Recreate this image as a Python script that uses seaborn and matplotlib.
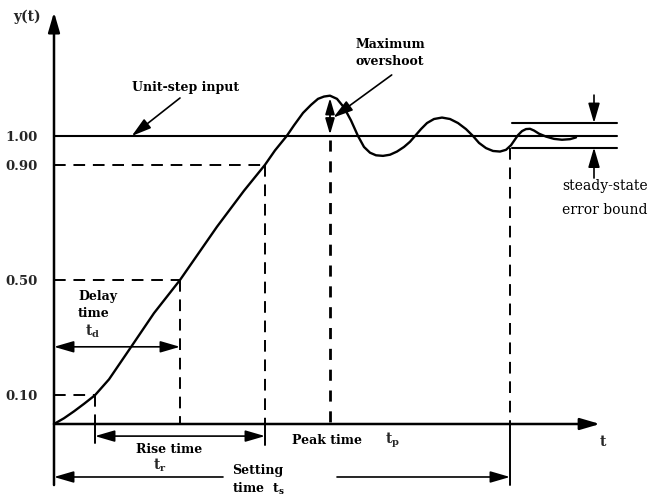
import matplotlib
matplotlib.use("Agg")
import matplotlib.pyplot as plt
import seaborn as sns

# ---------------- data ----------------
t_curve = [0.00, 0.10, 0.20, 0.30, 0.41, 0.55, 0.76, 1.00, 1.26, 1.63, 1.90,
           2.11, 2.21, 2.327, 2.40, 2.49, 2.57, 2.64, 2.70, 2.76, 2.83, 2.90,
           2.97, 3.04, 3.10, 3.16, 3.22, 3.29, 3.36, 3.43, 3.50, 3.56, 3.61,
           3.67, 3.73, 3.80, 3.88, 3.96, 4.04, 4.12, 4.19, 4.25, 4.32, 4.39,
           4.46, 4.52, 4.57, 4.61, 4.64, 4.68, 4.72, 4.76, 4.80, 4.85, 4.92,
           5.00, 5.08, 5.16, 5.22]
y_curve = [0.000, 0.020, 0.044, 0.070, 0.100, 0.155, 0.262, 0.385, 0.500, 0.685, 0.810,
           0.900, 0.950, 1.000, 1.037, 1.080, 1.108, 1.129, 1.137, 1.140, 1.129, 1.099,
           1.054, 1.000, 0.962, 0.942, 0.933, 0.931, 0.935, 0.946, 0.962, 0.980, 1.000,
           1.024, 1.045, 1.059, 1.064, 1.059, 1.045, 1.024, 1.000, 0.976, 0.958, 0.948,
           0.946, 0.952, 0.968, 0.988, 1.003, 1.017, 1.024, 1.025, 1.019, 1.008, 0.998,
           0.990, 0.987, 0.989, 0.995]

y_ticks = [0.10, 0.50, 0.90, 1.00]
y_tick_labels = ["0.10", "0.50", "0.90", "1.00"]

t_10 = 0.41      # time at 10 %
t_d = 1.26       # delay time (50 %)
t_90 = 2.11      # time at 90 %
t_p = 2.76       # peak time
t_s = 4.56       # settling time
y_peak = 1.140
step_level = 1.00
bound_lo, bound_hi = 0.96, 1.045
t_end = 5.63
t_axis_end = 5.46

# ---------------- figure ----------------
sns.set_theme(style="white")
plt.rcParams["font.family"] = ["DejaVu Serif"]
plt.rcParams["mathtext.fontset"] = "dejavuserif"

fig = plt.figure(figsize=(6.6, 5.0), dpi=100)
ax = fig.add_axes([0, 0, 1, 1])
ax.set_xlim(-0.54, 6.06)
ax.set_ylim(-76 / 288, 424 / 288)
for s in ax.spines.values():
    s.set_visible(False)
ax.spines["left"].set_position(("data", 0))
ax.set_xticks([])
ax.set_yticks(y_ticks)
ax.set_yticklabels(y_tick_labels, fontsize=9.5, fontweight="bold")
ax.tick_params(axis="y", length=0, pad=11.5)
ax.set_facecolor("white")
fig.patch.set_facecolor("white")

K = "black"
LW = 1.7

def arrow(x0, y0, x1, y1, style="-|>", lw=1.2, ms=10):
    ax.annotate("", xy=(x1, y1), xytext=(x0, y0),
                arrowprops=dict(arrowstyle=style + ",head_length=1.2,head_width=0.35",
                                lw=lw, color=K, shrinkA=0, shrinkB=0,
                                mutation_scale=ms))

# axes with arrows
arrow(0, -0.212, 0, 1.43, lw=1.8)
arrow(0, 0, t_axis_end, 0, lw=1.8)

# response curve
sns.lineplot(x=t_curve, y=y_curve, ax=ax, color=K, lw=LW, estimator=None)

# unit step and error band
ax.plot([0, t_end], [step_level, step_level], color=K, lw=1.5)
ax.plot([4.58, t_end], [bound_hi, bound_hi], color=K, lw=1.5)
ax.plot([4.58, t_end], [bound_lo, bound_lo], color=K, lw=1.5)

# dashed guides
dash = dict(color=K, lw=1.4, ls=(0, (6, 4)))
ax.plot([0, t_10], [0.10, 0.10], **dash)
ax.plot([t_10, t_10], [0.10, 0], **dash)
ax.plot([0, t_d], [0.50, 0.50], **dash)
ax.plot([t_d, t_d], [0.50, 0], **dash)
ax.plot([0, t_90], [0.90, 0.90], **dash)
ax.plot([t_90, t_90], [0.90, 0], **dash)
ax.plot([t_p, t_p], [0.985, 0], color=K, lw=2.0, ls=(0, (4, 3.5)))
ax.plot([t_s, t_s], [0.96, 0], **dash)

# solid ticks below the axis
ax.plot([t_10, t_10], [0, -0.066], color=K, lw=1.4)
ax.plot([t_90, t_90], [0, -0.073], color=K, lw=1.4)
ax.plot([t_s, t_s], [0, -0.212], color=K, lw=1.4)

# interval arrows
arrow(0, 0.268, t_d, 0.268, style="<|-|>")
arrow(t_10, -0.042, t_90, -0.042, style="<|-|>")
arrow(1.69, -0.184, 0, -0.184)
arrow(2.83, -0.184, t_s, -0.184)
arrow(t_p, step_level + 0.005, t_p, y_peak - 0.008, style="<|-|>", lw=1.3, ms=8)

# pointer arrows
arrow(1.26, 1.132, 0.777, 1.0)
arrow(3.377, 1.212, 2.793, 1.064)
arrow(5.40, 1.142, 5.40, bound_hi)
arrow(5.40, 0.854, 5.40, bound_lo)

# texts
B = dict(fontweight="bold", fontsize=9, color=K)
ax.text(-0.27, 1.413, "y(t)", ha="center", va="center", fontweight="bold", fontsize=10)
ax.text(5.49, -0.0625, "t", ha="center", va="center", fontweight="bold", fontsize=10)
ax.text(0.78, 1.167, "Unit-step input", ha="left", va="center", **B)
ax.text(3.02, 1.316, "Maximum", ha="left", va="center", **B)
ax.text(3.02, 1.257, "overshoot", ha="left", va="center", **B)
ax.text(0.24, 0.441, "Delay", ha="left", va="center", **B)
ax.text(0.24, 0.382, "time", ha="left", va="center", **B)
ax.text(0.31, 0.323, r"$\mathbf{t}_\mathbf{d}$", ha="left", va="center", fontsize=10)
ax.text(1.15, -0.087, "Rise time", ha="center", va="center", **B)
ax.text(1.06, -0.142, r"$\mathbf{t}_\mathbf{r}$", ha="center", va="center", fontsize=10)
ax.text(2.38, -0.056, "Peak time", ha="left", va="center", **B)
ax.text(3.31, -0.056, r"$\mathbf{t}_\mathbf{p}$", ha="left", va="center", fontsize=10)
ax.text(1.78, -0.160, "Setting", ha="left", va="center", **B)
ax.text(1.78, -0.226, r"time  $\mathbf{t}_\mathbf{s}$", ha="left", va="center", **B)
ax.text(5.08, 0.826, "steady-state", ha="left", va="center", fontsize=10, color=K)
ax.text(5.08, 0.743, "error bound", ha="left", va="center", fontsize=10, color=K)

fig.savefig("out.png", dpi=100, facecolor="white")
